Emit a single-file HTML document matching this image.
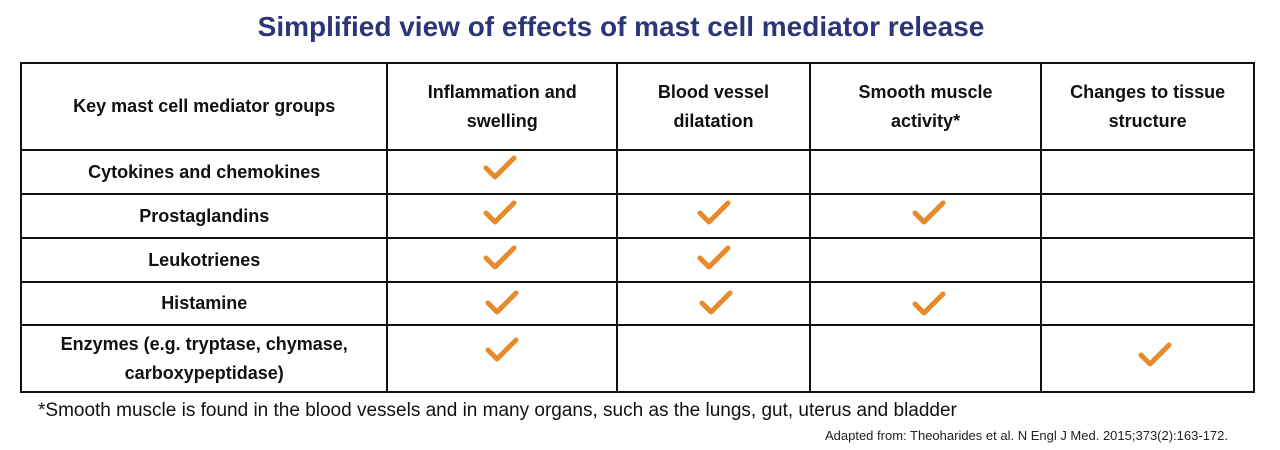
<!DOCTYPE html>
<html><head><meta charset="utf-8"><style>
body{margin:0;width:1280px;height:450px;background:#fff;font-family:"Liberation Sans",sans-serif;position:relative;overflow:hidden}
.t{position:absolute;left:0;width:1242px;top:11px;text-align:center;font-size:28px;font-weight:bold;color:#2d3579}
table{position:absolute;left:20px;top:62px;border-collapse:collapse;width:1235px}
td{border:2px solid #111;text-align:center;font-weight:bold;font-size:18px;color:#111;line-height:29px;padding:0}
.n{position:absolute;left:38px;top:400px;font-size:19px;color:#111}
.s{position:absolute;right:52px;top:428px;font-size:13px;color:#222}
</style></head><body>
<div class="t">Simplified view of effects of mast cell mediator release</div>
<table>
<colgroup><col style="width:367px"><col style="width:230px"><col style="width:193px"><col style="width:232px"><col style="width:213px"></colgroup>
<tr style="height:87px"><td>Key mast cell mediator groups</td><td>Inflammation and<br>swelling</td><td>Blood vessel<br>dilatation</td><td>Smooth muscle<br>activity*</td><td>Changes to tissue<br>structure</td></tr>
<tr style="height:44px"><td>Cytokines and chemokines</td><td></td><td></td><td></td><td></td></tr>
<tr style="height:44px"><td>Prostaglandins</td><td></td><td></td><td></td><td></td></tr>
<tr style="height:44px"><td>Leukotrienes</td><td></td><td></td><td></td><td></td></tr>
<tr style="height:43px"><td>Histamine</td><td></td><td></td><td></td><td></td></tr>
<tr style="height:67px"><td>Enzymes (e.g. tryptase, chymase,<br>carboxypeptidase)</td><td></td><td></td><td></td><td></td></tr>
</table>
<svg width="1280" height="450" style="position:absolute;left:0;top:0" fill="none" stroke="#e8892a" stroke-width="5" stroke-linecap="round" stroke-linejoin="round">
<defs><path id="c" d="M-14,0 L-5,9 L14,-10"/></defs>
<use href="#c" x="500" y="168"/>
<use href="#c" x="500" y="213"/>
<use href="#c" x="500" y="258"/>
<use href="#c" x="502" y="303"/>
<use href="#c" x="502" y="350"/>
<use href="#c" x="714" y="213"/>
<use href="#c" x="714" y="258"/>
<use href="#c" x="716" y="303"/>
<use href="#c" x="929" y="213"/>
<use href="#c" x="929" y="304"/>
<use href="#c" x="1155" y="355"/>
</svg>
<div class="n">*Smooth muscle is found in the blood vessels and in many organs, such as the lungs, gut, uterus and bladder</div>
<div class="s">Adapted from: Theoharides et al. N Engl J Med. 2015;373(2):163-172.</div>
</body></html>
